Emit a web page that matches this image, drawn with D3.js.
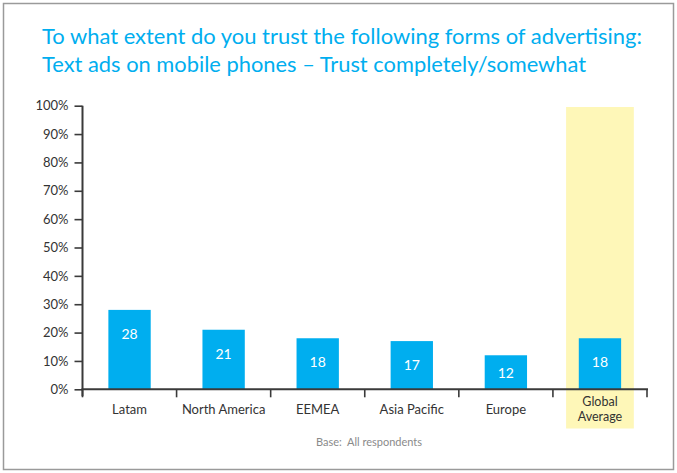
<!DOCTYPE html>
<html>
<head>
<meta charset="utf-8">
<script src="https://cdn.jsdelivr.net/npm/d3@7"></script>
<style>
  html, body { margin: 0; padding: 0; background: #fff; }
  svg { display: block; }
</style>
</head>
<body>
<svg id="chart" width="677" height="473"></svg>
<script>
// Regional trust in text ads on mobile phones (% trusting completely/somewhat)
const categories = ["Latam", "North America", "EEMEA", "Asia Pacific", "Europe", "Global Average"];
const values = [28, 21, 18, 17, 12, 18];
const yTicks = [0, 10, 20, 30, 40, 50, 60, 70, 80, 90, 100];
const highlighted = "Global Average";
const titleLines = [
  "To what extent do you trust the following forms of advertising:",
  "Text ads on mobile phones \u2013 Trust completely/somewhat"
];
const baseNote = "Base:  All respondents";

(function () {
  const svg = d3.select("#chart");
  const font = "Lato, 'Open Sans', sans-serif";
  const blue = "#00aeef";
  const axisColor = "#3a3a3a";

  // Outer frame
  svg.append("rect")
    .attr("x", 3.5).attr("y", 3.5)
    .attr("width", 670).attr("height", 466)
    .attr("fill", "#fff")
    .attr("stroke", "#9a9a9a").attr("stroke-width", 1.5);

  // Title
  const titleWidths = [600, 544];
  titleLines.forEach((t, i) => {
    svg.append("text")
      .attr("x", 42).attr("y", 44 + i * 28)
      .attr("font-family", font).attr("font-size", 21)
      .attr("fill", blue)
      .attr("textLength", titleWidths[i])
      .attr("lengthAdjust", "spacingAndGlyphs")
      .text(t);
  });

  const plotLeft = 82.5, plotRight = 647, plotTop = 105.7, plotBottom = 389.3;

  const x = d3.scaleBand().domain(categories).range([plotLeft, plotRight]).padding(0);
  const y = d3.scaleLinear().domain([0, 100]).range([plotBottom, plotTop]);

  const barW = x.bandwidth() * 0.45;
  const hiW = x.bandwidth() * 0.72;

  // Highlight band behind the global figure
  svg.append("rect")
    .attr("x", x(highlighted) + x.bandwidth() / 2 - hiW / 2)
    .attr("y", 107)
    .attr("width", hiW)
    .attr("height", 428.5 - 107)
    .attr("fill", "#fef7b8");

  // Bars
  const barG = svg.append("g");
  barG.selectAll("rect")
    .data(categories)
    .join("rect")
    .attr("x", d => x(d) + x.bandwidth() / 2 - barW / 2)
    .attr("y", (d, i) => y(values[i]))
    .attr("width", barW)
    .attr("height", (d, i) => y(0) - y(values[i]))
    .attr("fill", blue);

  // Value labels inside bars
  barG.selectAll("text")
    .data(categories)
    .join("text")
    .attr("x", d => x(d) + x.bandwidth() / 2)
    .attr("y", (d, i) => {
      const h = y(0) - y(values[i]);
      return y(values[i]) + Math.min(24, h / 2 + 1);
    })
    .attr("dy", "0.35em")
    .attr("text-anchor", "middle")
    .attr("font-family", font).attr("font-size", 14)
    .attr("fill", "#fff")
    .text((d, i) => values[i]);

  // Y axis
  const yAxis = svg.append("g")
    .attr("transform", `translate(${plotLeft},0)`)
    .call(d3.axisLeft(y).tickValues(yTicks).tickFormat(d => d + "%").tickSize(8).tickPadding(6));
  yAxis.select(".domain").attr("stroke", axisColor).attr("stroke-width", 2)
    .attr("d", `M0,${plotTop}V${plotBottom + 7}`);
  yAxis.selectAll(".tick line").attr("stroke", axisColor).attr("stroke-width", 1.6);
  yAxis.selectAll(".tick text")
    .attr("font-family", font).attr("font-size", 13).attr("fill", "#333");

  // X axis with ticks at band boundaries
  const xAxis = svg.append("g").attr("transform", `translate(0,${plotBottom})`);
  xAxis.append("line")
    .attr("x1", plotLeft - 1).attr("x2", plotRight + 1)
    .attr("stroke", axisColor).attr("stroke-width", 2);
  const boundaries = categories.map(c => x(c)).concat([plotRight]);
  xAxis.selectAll("line.tick")
    .data(boundaries)
    .join("line")
    .attr("class", "tick")
    .attr("x1", d => d).attr("x2", d => d)
    .attr("y1", 0).attr("y2", 8)
    .attr("stroke", axisColor).attr("stroke-width", 1.6);

  // Category labels (the highlighted one wraps onto two lines)
  categories.forEach(c => {
    const words = c === highlighted ? c.split(" ") : [c];
    const cx = x(c) + x.bandwidth() / 2;
    if (words.length === 1) {
      xAxis.append("text")
        .attr("x", cx).attr("y", 25)
        .attr("text-anchor", "middle")
        .attr("font-family", font).attr("font-size", 13)
        .attr("fill", "#333")
        .text(words[0]);
    } else {
      words.forEach((w, i) => {
        xAxis.append("text")
          .attr("x", cx).attr("y", 17 + i * 15)
          .attr("text-anchor", "middle")
          .attr("font-family", font).attr("font-size", 12.5)
          .attr("fill", "#333")
          .text(w);
      });
    }
  });

  // Base note
  svg.append("text")
    .attr("x", 369).attr("y", 446)
    .attr("text-anchor", "middle")
    .attr("font-family", font).attr("font-size", 11)
    .attr("fill", "#8a8a8a")
    .attr("xml:space", "preserve")
    .text(baseNote);
})();
</script>
</body>
</html>
